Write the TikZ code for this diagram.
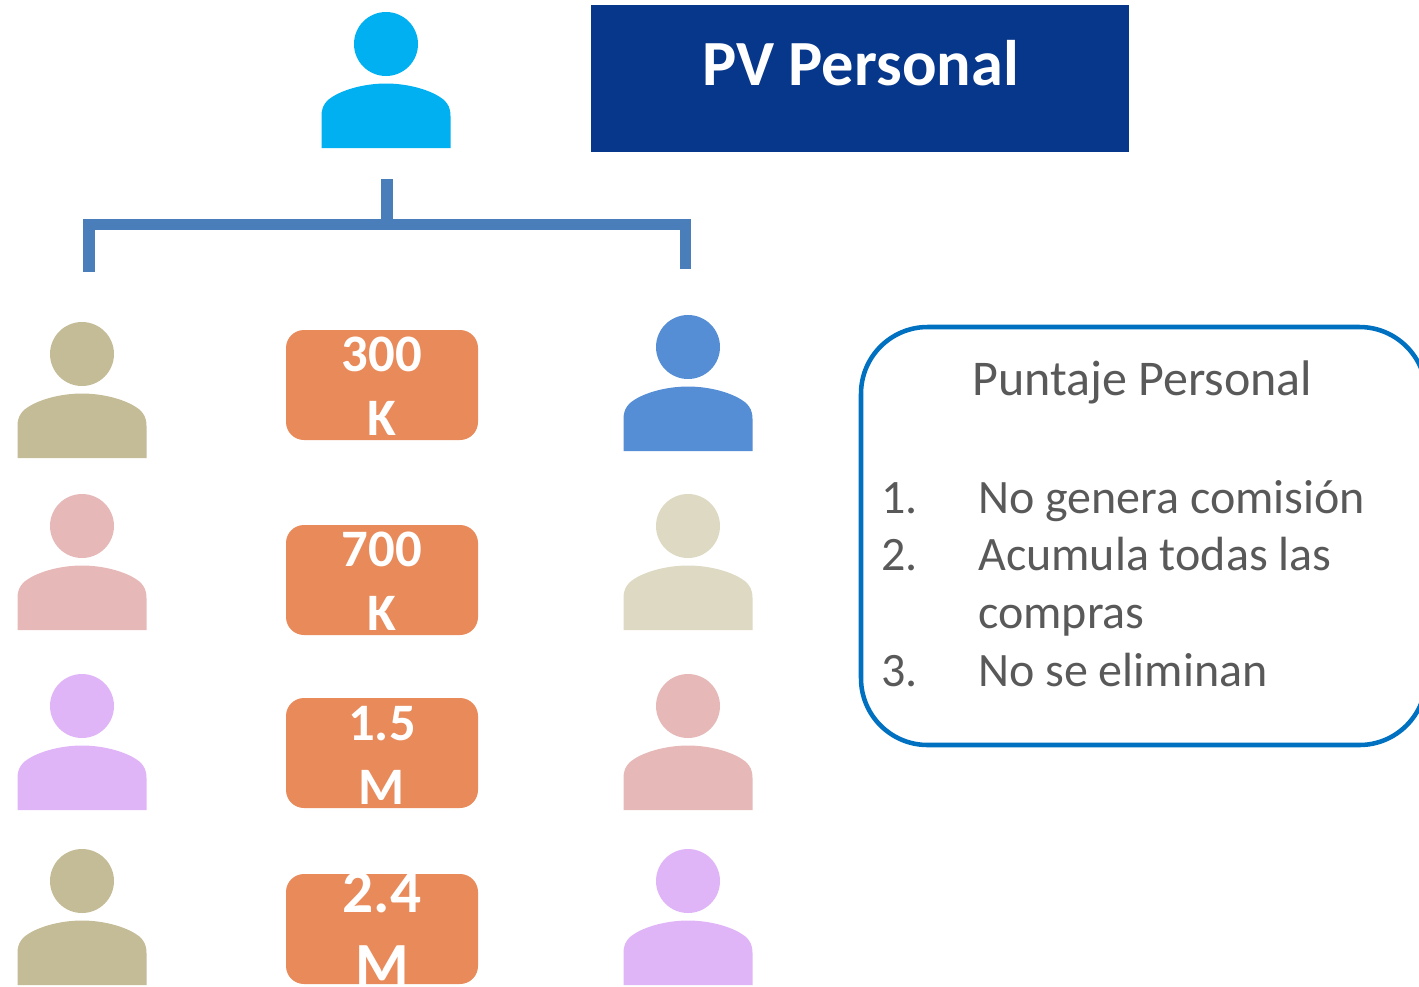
\documentclass[tikz,border=0pt]{standalone}
\usepackage{fontspec}
\setmainfont{Carlito}
\newcommand{\fsz}[1]{\fontsize{#1}{#1}\selectfont}
\definecolor{cMain}{HTML}{00B0F0}
\definecolor{cNavy}{HTML}{07378A}
\definecolor{cTan}{HTML}{C4BC96}
\definecolor{cPink}{HTML}{E6B9B8}
\definecolor{cLilac}{HTML}{E0B5F8}
\definecolor{cBlue}{HTML}{558ED5}
\definecolor{cLight}{HTML}{DDD9C3}
\definecolor{cOrange}{HTML}{E98A5A}
\definecolor{cLink}{HTML}{4A7EBB}
\definecolor{cFrame}{HTML}{0070C0}
\definecolor{cText}{HTML}{595959}
\tikzset{
  head/.style={circle,fill=#1,draw=none,minimum size=48pt,inner sep=0pt},
  link/.style={draw=cLink,line width=8.4pt,line join=miter},
  valbox/.style={fill=cOrange,draw=none,rounded corners=13.5pt},
  val/.style={text=white,font=\bfseries\fsz{39.5},anchor=base,inner sep=0pt},
  bigval/.style={text=white,font=\bfseries\fsz{46},anchor=base,inner sep=0pt},
  listtext/.style={text=cText,font=\fsz{36},anchor=base west,inner sep=0pt},
}
% #1 name, #2 x, #3 head y, #4 colour
\newcommand{\person}[4]{%
  \node[head=#4] (#1) at (#2,#3) {};
  \fill[#4] (#2-64.5,#3+104) -- (#2-64.5,#3+72)
    .. controls (#2-64.5,#3+64) and (#2-62,#3+60) .. (#2-58,#3+56)
    .. controls (#2-46,#3+46) and (#2-22,#3+39.5) .. (#2,#3+39.5)
    .. controls (#2+22,#3+39.5) and (#2+46,#3+46) .. (#2+58,#3+56)
    .. controls (#2+62,#3+60) and (#2+64.5,#3+64) .. (#2+64.5,#3+72)
    -- (#2+64.5,#3+104) -- cycle;
}
\begin{document}
\begin{tikzpicture}[x=0.75pt,y=-0.75pt]
\clip (0,0) rectangle (1419,986);
% title
\fill[cNavy] (591,5) rectangle (1129,152);
\node[text=white,font=\bfseries\fsz{48.3},anchor=base,inner sep=0pt] (title) at (860.5,85) {PV Personal};
% people
\person{top}{386}{44}{cMain}
\person{l1}{82}{354}{cTan}
\person{l2}{82}{526}{cPink}
\person{l3}{82}{706}{cLilac}
\person{l4}{82}{881}{cTan}
\person{r1}{688}{347}{cBlue}
\person{r2}{688}{526}{cLight}
\person{r3}{688}{706}{cPink}
\person{r4}{688}{881}{cLilac}
% connector
\coordinate (stem) at (387,179);
\coordinate (joint) at (387,224.5);
\coordinate (legL) at (89,272);
\coordinate (legR) at (685.5,269);
\draw[link] (legL) |- (joint) -| (legR);
\draw[link] (stem) -- (joint);
% values
\fill[valbox] (286,330) rectangle (478,440);
\fill[valbox] (286,525) rectangle (478,635);
\fill[valbox] (286,698) rectangle (478,808);
\fill[valbox] (286,874) rectangle (478,984);
\node[val] (a1) at (382,371) {300};
\node[val] (a2) at (382,435) {K};
\node[val] (b1) at (382,566) {700};
\node[val] (b2) at (382,630) {K};
\node[val] (c1) at (382,740) {1.5};
\node[val] (c2) at (382,804) {M};
\node[bigval] (d1) at (382,912) {2.4};
\node[bigval] (d2) at (382,985) {M};
% frame
\draw[cFrame,line width=3.4pt,rounded corners=50pt] (861,327) rectangle (1426,745);
\node[text=cText,font=\fsz{37.5},anchor=base west,inner sep=0pt] (h) at (972,395) {Puntaje Personal};
\node[listtext] (n1) at (881,513) {1.};
\node[listtext] (t1) at (978,513) {No genera comisión};
\node[listtext] (n2) at (881,570) {2.};
\node[listtext] (t2) at (978,570) {Acumula todas las};
\node[listtext] (t2b) at (978,628) {compras};
\node[listtext] (n3) at (881,686) {3.};
\node[listtext] (t3) at (978,686) {No se eliminan};
\end{tikzpicture}
\end{document}
